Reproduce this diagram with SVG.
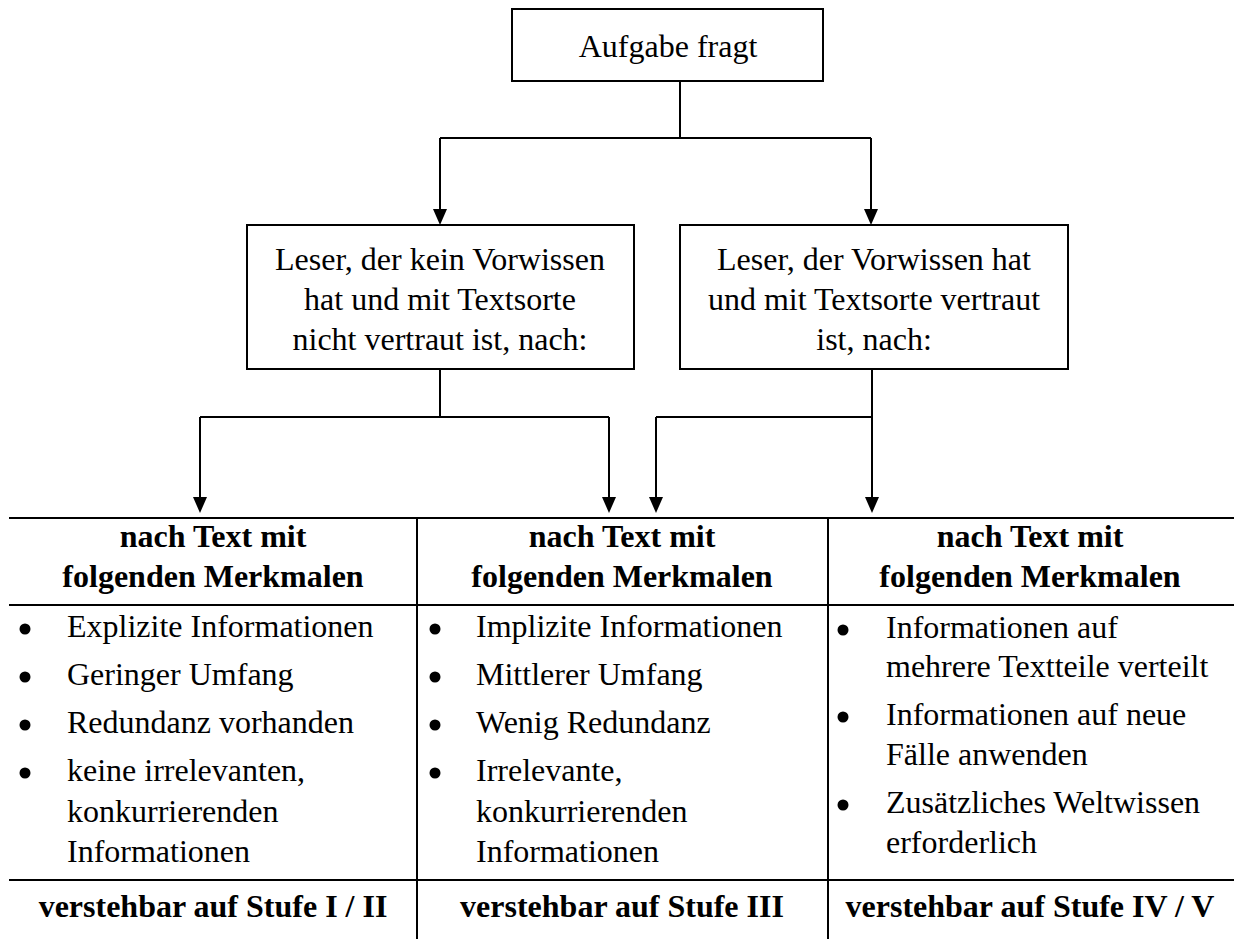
<svg xmlns="http://www.w3.org/2000/svg" width="1234" height="939" viewBox="0 0 1234 939">
<style>
.box{fill:#fff;stroke:#000;stroke-width:2}
.ln{fill:none;stroke:#000;stroke-width:2}
.t{font-family:"Liberation Serif","Times New Roman",serif;font-size:32px;fill:#000}
.c{text-anchor:middle}
.b{font-weight:bold}
.dot{fill:#000}
.ah{fill:#000}
</style>
<rect width="1234" height="939" fill="#fff"/>
<g id="connectors">
<path class="ln" d="M680,81 V138"/>
<path class="ln" d="M440,138 H871"/>
<path class="ln" d="M440,138 V212"/>
<path class="ln" d="M871,138 V212"/>
<path class="ah" d="M433,209 L447,209 L440,225 Z"/>
<path class="ah" d="M864,209 L878,209 L871,225 Z"/>
<path class="ln" d="M440,369 V417 M200,417 H609 M200,417 V500 M609,417 V500"/>
<path class="ah" d="M193,497 L207,497 L200,513 Z"/>
<path class="ah" d="M602,497 L616,497 L609,513 Z"/>
<path class="ln" d="M872,369 V417 M656,417 H872 M656,417 V500 M872,417 V500"/>
<path class="ah" d="M649,497 L663,497 L656,513 Z"/>
<path class="ah" d="M865,497 L879,497 L872,513 Z"/>
</g>
<g id="n-aufgabe">
<rect class="box" x="512" y="9" width="311" height="72"/>
<text class="t c" x="668" y="57">Aufgabe fragt</text>
</g>
<g id="n-leser-ohne">
<rect class="box" x="247" y="225" width="387" height="144"/>
<text class="t c" x="440" y="270">Leser, der kein Vorwissen</text>
<text class="t c" x="440" y="310">hat und mit Textsorte</text>
<text class="t c" x="440" y="350">nicht vertraut ist, nach:</text>
</g>
<g id="n-leser-mit">
<rect class="box" x="680" y="225" width="388" height="144"/>
<text class="t c" x="874" y="270">Leser, der Vorwissen hat</text>
<text class="t c" x="874" y="310">und mit Textsorte vertraut</text>
<text class="t c" x="874" y="350">ist, nach:</text>
</g>
<g id="table">
<path class="ln" d="M9,518 H1234 M9,605 H1234 M9,880 H1234 M417,518 V939 M828,518 V939"/>
</g>
<g id="col1">
<text class="t c b" x="213" y="547">nach Text mit</text>
<text class="t c b" x="213" y="587">folgenden Merkmalen</text>
<circle class="dot" cx="25" cy="629" r="5.5"/>
<circle class="dot" cx="25" cy="677" r="5.5"/>
<circle class="dot" cx="25" cy="725" r="5.5"/>
<circle class="dot" cx="25" cy="773" r="5.5"/>
<text class="t" x="67" y="637">Explizite Informationen</text>
<text class="t" x="67" y="685">Geringer Umfang</text>
<text class="t" x="67" y="733">Redundanz vorhanden</text>
<text class="t" x="67" y="781">keine irrelevanten,</text>
<text class="t" x="67" y="822">konkurrierenden</text>
<text class="t" x="67" y="862">Informationen</text>
<text class="t c b" x="213" y="917">verstehbar auf Stufe I / II</text>
</g>
<g id="col2">
<text class="t c b" x="622" y="547">nach Text mit</text>
<text class="t c b" x="622" y="587">folgenden Merkmalen</text>
<circle class="dot" cx="435" cy="629" r="5.5"/>
<circle class="dot" cx="435" cy="677" r="5.5"/>
<circle class="dot" cx="435" cy="725" r="5.5"/>
<circle class="dot" cx="435" cy="773" r="5.5"/>
<text class="t" x="476" y="637">Implizite Informationen</text>
<text class="t" x="476" y="685">Mittlerer Umfang</text>
<text class="t" x="476" y="733">Wenig Redundanz</text>
<text class="t" x="476" y="781">Irrelevante,</text>
<text class="t" x="476" y="822">konkurrierenden</text>
<text class="t" x="476" y="862">Informationen</text>
<text class="t c b" x="622" y="917">verstehbar auf Stufe III</text>
</g>
<g id="col3">
<text class="t c b" x="1030" y="547">nach Text mit</text>
<text class="t c b" x="1030" y="587">folgenden Merkmalen</text>
<circle class="dot" cx="843" cy="630" r="5.5"/>
<circle class="dot" cx="843" cy="717" r="5.5"/>
<circle class="dot" cx="843" cy="805" r="5.5"/>
<text class="t" x="886" y="638">Informationen auf</text>
<text class="t" x="886" y="677">mehrere Textteile verteilt</text>
<text class="t" x="886" y="725">Informationen auf neue</text>
<text class="t" x="886" y="765">Fälle anwenden</text>
<text class="t" x="886" y="813">Zusätzliches Weltwissen</text>
<text class="t" x="886" y="853">erforderlich</text>
<text class="t c b" x="1030" y="917">verstehbar auf Stufe IV / V</text>
</g>
</svg>
